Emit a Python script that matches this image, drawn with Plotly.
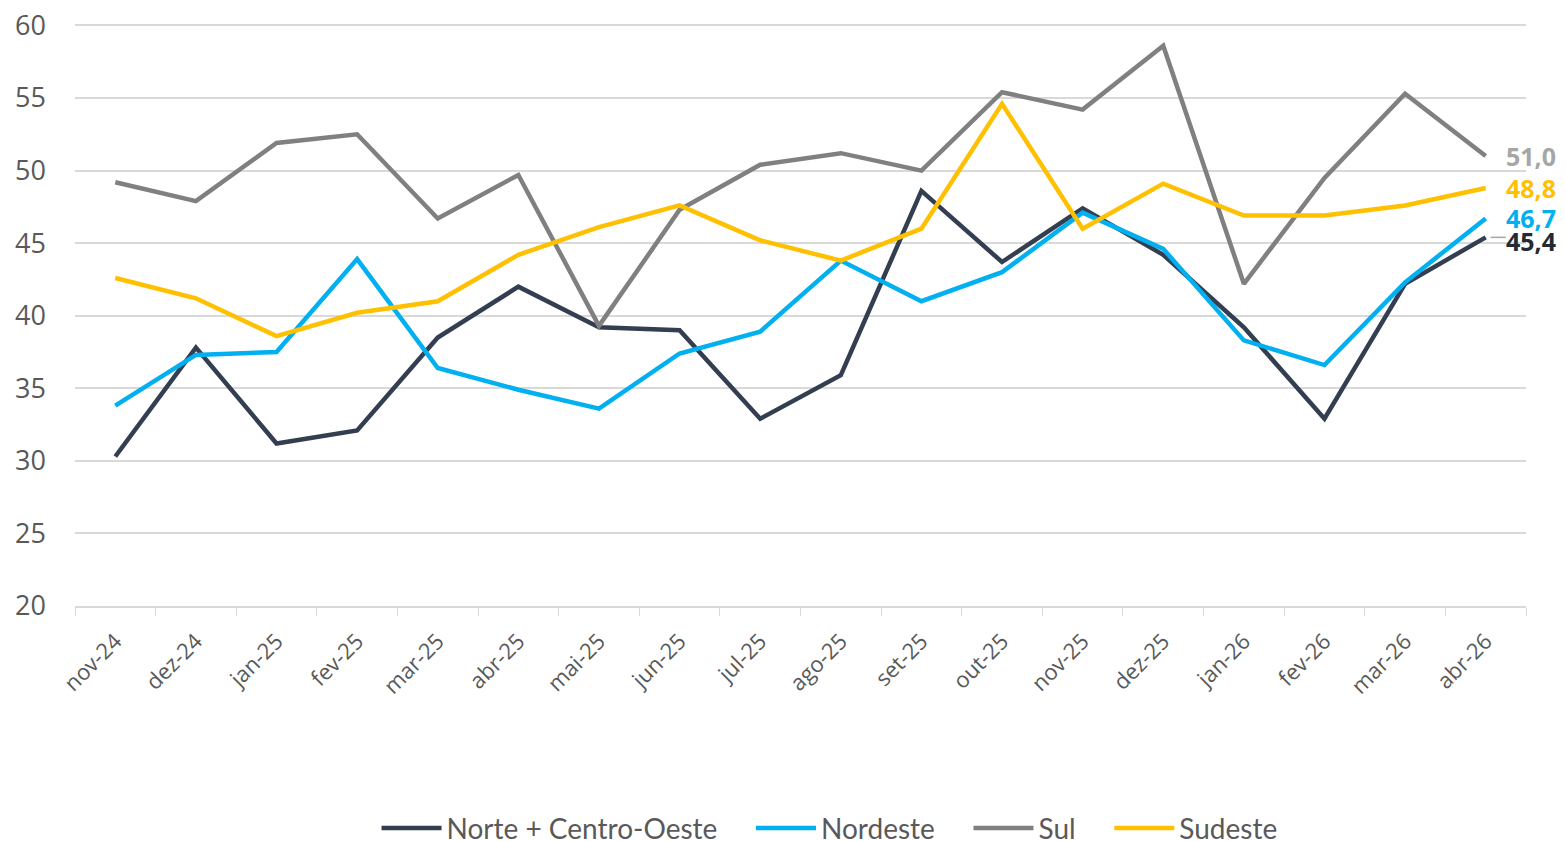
import plotly.graph_objects as go

months = ["nov-24","dez-24","jan-25","fev-25","mar-25","abr-25","mai-25","jun-25","jul-25",
          "ago-25","set-25","out-25","nov-25","dez-25","jan-26","fev-26","mar-26","abr-26"]

norte = [30.3,37.8,31.2,32.1,38.5,42.0,39.2,39.0,32.9,35.9,48.6,43.7,47.4,44.2,39.2,32.9,42.2,45.4]
nordeste = [33.8,37.3,37.5,43.9,36.4,34.9,33.6,37.4,38.9,43.8,41.0,43.0,47.1,44.6,38.3,36.6,42.3,46.7]
sul = [49.2,47.9,51.9,52.5,46.7,49.7,39.3,47.3,50.4,51.2,50.0,55.4,54.2,58.6,42.2,49.5,55.3,51.0]
sudeste = [42.6,41.2,38.6,40.2,41.0,44.2,46.1,47.6,45.2,43.8,46.0,54.6,46.0,49.1,46.9,46.9,47.6,48.8]

series = [
    ("Norte + Centro-Oeste", norte, "#333F50", "#222A35"),
    ("Nordeste", nordeste, "#00B0F0", "#00B0F0"),
    ("Sul", sul, "#808080", "#A6A6A6"),
    ("Sudeste", sudeste, "#FFC000", "#FFC000"),
]

pad = "\u00a0" * 4
fig = go.Figure()
for i, (name, vals, col, _) in enumerate(series):
    fig.add_trace(go.Scatter(x=months, y=vals, name=name + (pad if i < len(series) - 1 else ""),
                             mode="lines", line=dict(color=col, width=4.5)))

# end labels
yshifts = [-4, 0, 0, 0]
for (name, vals, col, lcol), ys in zip(series, yshifts):
    fig.add_annotation(x=months[-1], y=vals[-1],
                       text="<b>" + f"{vals[-1]:.1f}".replace(".", ",") + "</b>",
                       showarrow=False, xanchor="left", xshift=18, yshift=ys,
                       font=dict(color=lcol, size=25, family="Open Sans"))

# leader line for 45,4
fig.add_shape(type="line", xref="x", yref="y", x0=17.06, x1=17.25, y0=45.4, y1=45.4,
              line=dict(color="#A6A6A6", width=1.5))

fig.update_layout(
    width=1557, height=833,
    margin=dict(l=67, r=39, t=16, b=235, autoexpand=False),
    plot_bgcolor="white", paper_bgcolor="white",
    font=dict(family="Open Sans", color="#595959"),
    legend=dict(orientation="h", x=0.52, xanchor="center", y=-0.382, yanchor="middle",
                font=dict(size=28, family="Lato", color="#595959"),
                traceorder="normal", itemwidth=60),
    showlegend=True,
)
fig.update_xaxes(type="category", tickangle=-45, tickfont=dict(size=22, color="#595959"),
                 showline=True, linecolor="#D9D9D9", linewidth=1.5,
                 ticks="outside", tickson="boundaries", ticklen=8, tickcolor="#D9D9D9",
                 showgrid=False, range=[-0.5, 17.5], automargin=False, ticklabelstandoff=12)
fig.update_yaxes(range=[20, 60.1], tickvals=[20, 25, 30, 35, 40, 45, 50, 55, 60],
                 tickfont=dict(size=27, color="#595959"), ticklabeloverflow="allow",
                 showgrid=True, gridcolor="#D9D9D9", gridwidth=1.5, zeroline=False,
                 ticks="", automargin=False, ticklabelstandoff=28)

fig.write_html("out.html")
